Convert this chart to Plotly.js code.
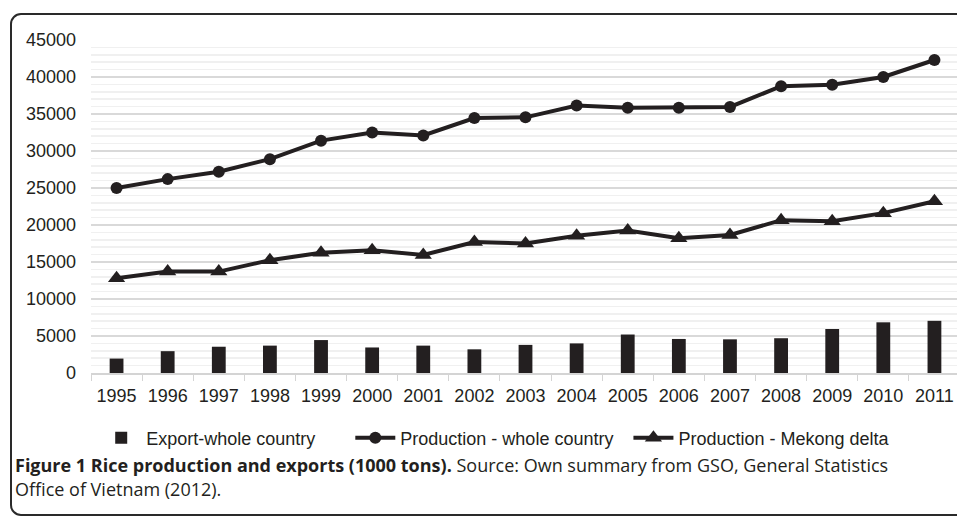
<!DOCTYPE html>
<html>
<head>
<meta charset="utf-8">
<script src="https://cdn.plot.ly/plotly-3.0.1.min.js"></script>
<style>
html, body { margin:0; padding:0; background:#fff; overflow:hidden; width:957px; height:519px; }
#frame { position:absolute; left:10px; top:13px; width:980px; height:503px; border:2px solid #2a2a2a; border-radius:11px; box-sizing:border-box; }
#chart { position:absolute; left:0; top:0; }
</style>
</head>
<body>
<div id="frame"></div>
<div id="chart"></div>
<script>
const years = ['1995','1996','1997','1998','1999','2000','2001','2002','2003','2004','2005','2006','2007','2008','2009','2010','2011'];
const exportWhole = [1950, 2950, 3550, 3700, 4450, 3450, 3700, 3200, 3800, 4000, 5200, 4600, 4550, 4700, 5950, 6850, 7050];
const prodWhole = [25000, 26200, 27200, 28900, 31400, 32500, 32100, 34450, 34550, 36150, 35850, 35850, 35950, 38750, 38950, 40000, 42300];
const prodMekong = [12800, 13700, 13700, 15250, 16250, 16600, 15950, 17700, 17500, 18550, 19250, 18200, 18650, 20650, 20500, 21600, 23200];
const yTicks = [0, 5000, 10000, 15000, 20000, 25000, 30000, 35000, 40000, 45000];
const seriesNames = ['Export-whole country', 'Production - whole country', 'Production - Mekong delta'];

const ink = '#231f20';
const sans = 'Liberation Sans';
const pad = n => '\u00a0'.repeat(n);
const traces = [
  { type:'bar', x: years, y: exportWhole, name: seriesNames[0] + pad(6), marker:{color:ink}, width:0.27 },
  { type:'scatter', mode:'lines+markers', x: years, y: prodWhole, name: seriesNames[1] + pad(2),
    line:{color:ink, width:4}, marker:{symbol:'circle', size:12, color:ink} },
  { type:'scatter', mode:'lines+markers', x: years, y: prodMekong, name: seriesNames[2],
    line:{color:ink, width:4}, marker:{symbol:'triangle-up', size:15, color:ink} }
];

const layout = {
  width: 960, height: 519,
  margin: {l:91, r:0, t:40, b:146, pad:0},
  paper_bgcolor:'rgba(0,0,0,0)', plot_bgcolor:'rgba(0,0,0,0)',
  font: {family:sans, size:18, color:'#231f20'},
  showlegend: true,
  xaxis: {
    type:'category', range:[-0.5, 16.5], tickson:'boundaries', ticks:'outside', ticklen:6, tickcolor:'#d4d4d4', tickwidth:1,
    showline:true, linecolor:'#d4d4d4', linewidth:1.5, showgrid:false, zeroline:false,
    ticklabelstandoff: 6,
    tickfont:{family:sans, size:18}, fixedrange:true
  },
  yaxis: {
    range:[0, 45000], tickvals: yTicks, ticktext: yTicks.map(String),
    showgrid:true, gridcolor:'#d9d9d9', gridwidth:1.5, zeroline:false, showline:false,
    ticks:'', ticklabelstandoff: 14,
    minor:{dtick:1000, showgrid:true, gridcolor:'#f0f0f0', gridwidth:1.5, tick0:0},
    tickfont:{family:sans, size:18}, fixedrange:true
  },
  legend: {
    orientation:'h', x:0.006, xanchor:'left', y:-0.195, yanchor:'middle',
    font:{family:sans, size:18, color:'#231f20'}, itemwidth:40, traceorder:'normal', bgcolor:'rgba(0,0,0,0)'
  },
  annotations: [
    { xref:'paper', yref:'paper', x:-0.0895, y:-0.2756, xanchor:'left', yanchor:'middle', showarrow:false, align:'left',
      text:'<b>Figure 1 Rice production and exports (1000 tons).</b> Source: Own summary from GSO, General Statistics',
      font:{family:'Open Sans', size:18, color:'#231f20'} },
    { xref:'paper', yref:'paper', x:-0.0895, y:-0.348, xanchor:'left', yanchor:'middle', showarrow:false, align:'left',
      text:'Office of Vietnam (2012).',
      font:{family:'Open Sans', size:18, color:'#231f20'} }
  ]
};

Plotly.newPlot('chart', traces, layout, {displayModeBar:false, staticPlot:true});
</script>
</body>
</html>
